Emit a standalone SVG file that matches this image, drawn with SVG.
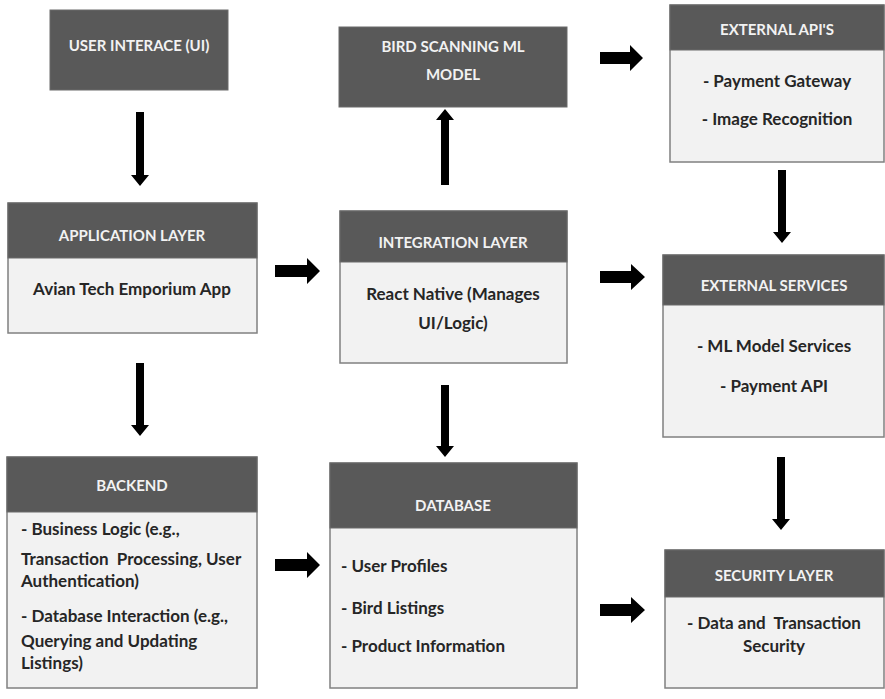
<svg xmlns="http://www.w3.org/2000/svg" width="885" height="699" viewBox="0 0 885 699">
<style>
.bg{fill:#ffffff}
.hd{fill:#595959;stroke:#6b6b6b;stroke-width:1}
.bd{fill:#f2f2f2;stroke:#808080;stroke-width:1.5}
.ht{font-family:Lato,"Open Sans",sans-serif;font-weight:bold;font-size:15px;fill:#f2f2f2;text-anchor:middle;dominant-baseline:central}
.tx{font-family:Lato,"Open Sans",sans-serif;font-weight:bold;font-size:17px;fill:#262626;dominant-baseline:central}
.c{text-anchor:middle}
.ar{fill:#000000}
</style>
<rect class="bg" x="0" y="0" width="885" height="699"/>

<g id="ui">
<rect class="hd" x="50" y="10" width="178" height="80"/>
<text class="ht" x="139" y="45">USER INTERACE (UI)</text>
</g>

<g id="bird">
<rect class="hd" x="339" y="27" width="228" height="80"/>
<text class="ht" x="453" y="46">BIRD SCANNING ML</text>
<text class="ht" x="453" y="74">MODEL</text>
</g>

<g id="api">
<rect class="bd" x="670" y="5" width="214" height="157"/>
<rect class="hd" x="670" y="5" width="214" height="45"/>
<text class="ht" x="777" y="29">EXTERNAL API'S</text>
<text class="tx c" x="777" y="80">- Payment Gateway</text>
<text class="tx c" x="777" y="118">- Image Recognition</text>
</g>

<g id="app">
<rect class="bd" x="8" y="203" width="249" height="130"/>
<rect class="hd" x="8" y="203" width="249" height="55"/>
<text class="ht" x="132" y="235">APPLICATION LAYER</text>
<text class="tx c" x="132" y="288">Avian Tech Emporium App</text>
</g>

<g id="integration">
<rect class="bd" x="340" y="211" width="227" height="152"/>
<rect class="hd" x="340" y="211" width="227" height="51"/>
<text class="ht" x="453" y="242">INTEGRATION LAYER</text>
<text class="tx c" x="453" y="293">React Native (Manages</text>
<text class="tx c" x="453" y="322">UI/Logic)</text>
</g>

<g id="extservices">
<rect class="bd" x="663" y="255" width="221" height="182"/>
<rect class="hd" x="663" y="255" width="221" height="50"/>
<text class="ht" x="774" y="285">EXTERNAL SERVICES</text>
<text class="tx c" x="774" y="345">- ML Model Services</text>
<text class="tx c" x="774" y="385">- Payment API</text>
</g>

<g id="backend">
<rect class="bd" x="7" y="457" width="250" height="231"/>
<rect class="hd" x="7" y="457" width="250" height="55"/>
<text class="ht" x="132" y="485">BACKEND</text>
<text class="tx" x="21" y="528">- Business Logic (e.g.,</text>
<text class="tx" x="21" y="558" xml:space="preserve">Transaction  Processing, User</text>
<text class="tx" x="21" y="580">Authentication)</text>
<text class="tx" x="21" y="615">- Database Interaction (e.g.,</text>
<text class="tx" x="21" y="640">Querying and Updating</text>
<text class="tx" x="21" y="662">Listings)</text>
</g>

<g id="database">
<rect class="bd" x="330" y="463" width="247" height="225"/>
<rect class="hd" x="330" y="463" width="247" height="65"/>
<text class="ht" x="453" y="505">DATABASE</text>
<text class="tx" x="341" y="565">- User Profiles</text>
<text class="tx" x="341" y="607">- Bird Listings</text>
<text class="tx" x="341" y="645">- Product Information</text>
</g>

<g id="security">
<rect class="bd" x="665" y="550" width="219" height="138"/>
<rect class="hd" x="665" y="550" width="219" height="47"/>
<text class="ht" x="774" y="575">SECURITY LAYER</text>
<text class="tx c" x="774" y="622" xml:space="preserve">- Data and  Transaction</text>
<text class="tx c" x="774" y="645">Security</text>
</g>

<g id="connectors">
<polygon class="ar" points="136,112 144,112 144,175 149,175 140,186 131,175 136,175"/>
<polygon class="ar" points="136,363 144,363 144,425 149,425 140,436 131,425 136,425"/>
<polygon class="ar" points="441,185 449,185 449,120 454,120 445,109 436,120 441,120"/>
<polygon class="ar" points="441,385 449,385 449,446 454,446 445,457 436,446 441,446"/>
<polygon class="ar" points="778,170 786,170 786,232 791,232 782,243 773,232 778,232"/>
<polygon class="ar" points="777,457 785,457 785,519 790,519 781,530 772,519 777,519"/>
<polygon class="ar" points="600,52 630,52 630,45 643,58 630,71 630,64 600,64"/>
<polygon class="ar" points="275,265 307,265 307,258 320,271 307,284 307,277 275,277"/>
<polygon class="ar" points="600,271 631,271 631,264 645,277 631,290 631,283 600,283"/>
<polygon class="ar" points="275,559 307,559 307,552 320,565 307,578 307,571 275,571"/>
<polygon class="ar" points="600,604 631,604 631,597 645,610 631,623 631,616 600,616"/>
</g>
</svg>
